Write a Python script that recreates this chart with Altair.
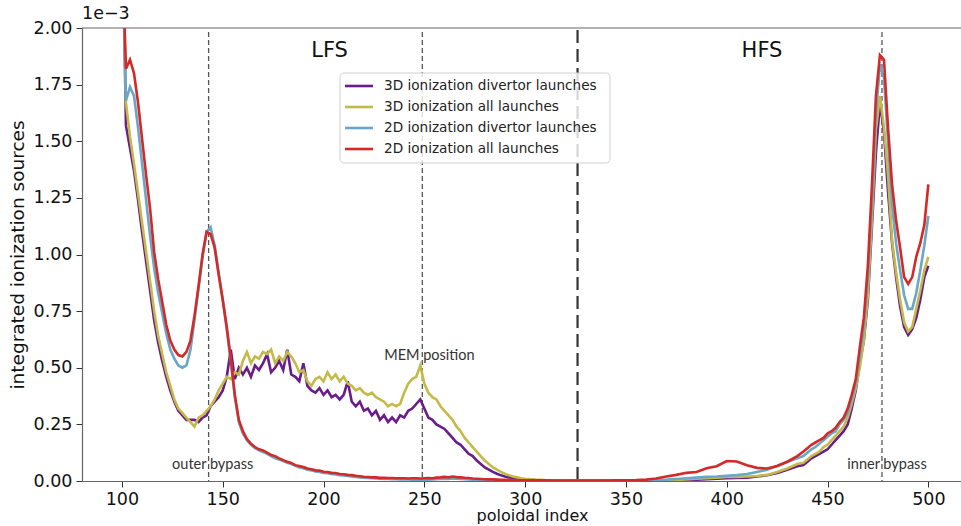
import altair as alt
import pandas as pd

# poloidal index grid (shared by all series)
idx = [101,
       102, 104, 106, 108, 110, 112, 114, 116, 118, 120, 122, 124, 126, 128, 130, 132, 134, 136, 138, 140,
       142, 144, 146, 148, 150, 152, 154, 156, 158, 160, 162, 164, 166, 168, 170, 172, 174, 176, 178, 180,
       182, 184, 186, 188, 190, 192, 194, 196, 198, 200, 202, 204, 206, 208, 210, 212, 214, 216, 218, 220,
       222, 224, 226, 228, 230, 232, 234, 236, 238, 240, 242, 244, 246, 248, 250, 252, 254, 256, 258, 260,
       262, 264, 266, 268, 270, 272, 274, 276, 278, 280, 282, 284, 286, 288, 290, 292, 294, 296, 298, 300,
       305, 310, 315, 320, 325, 330, 335, 340, 345, 350, 355, 360, 365, 370, 375, 380, 385, 390, 395, 400,
       405, 410, 415, 420, 425, 430, 435,
       438, 440, 442, 444, 446, 448, 450, 452, 454, 456, 458, 460, 462, 464, 466, 468, 470, 472, 474, 476,
       478, 480, 482, 484, 486, 488, 490, 492, 494, 496, 498, 500]

# values in units of 1e-3
ion3d_div = [2.10,
    1.57, 1.47, 1.37, 1.24, 1.10, 0.97, 0.84, 0.71, 0.61, 0.53, 0.46, 0.40, 0.35, 0.31, 0.29, 0.27, 0.27, 0.27, 0.26, 0.28,
    0.29, 0.33, 0.35, 0.37, 0.40, 0.46, 0.58, 0.45, 0.50, 0.47, 0.50, 0.46, 0.51, 0.49, 0.52, 0.56, 0.48, 0.50, 0.53, 0.49,
    0.58, 0.47, 0.46, 0.44, 0.52, 0.42, 0.40, 0.39, 0.41, 0.38, 0.40, 0.37, 0.38, 0.36, 0.38, 0.44, 0.35, 0.33, 0.35, 0.31,
    0.32, 0.29, 0.31, 0.27, 0.29, 0.26, 0.28, 0.26, 0.29, 0.28, 0.31, 0.32, 0.34, 0.36, 0.32, 0.28, 0.27, 0.25, 0.24, 0.23,
    0.21, 0.19, 0.17, 0.16, 0.14, 0.12, 0.11, 0.09, 0.075, 0.06, 0.05, 0.04, 0.032, 0.025, 0.02, 0.016, 0.013, 0.01, 0.008, 0.007,
    0.004, 0.003, 0.002, 0.001, 0.001, 0.001, 0.001, 0.001, 0.001, 0.001, 0.001, 0.001, 0.001, 0.002, 0.003, 0.004, 0.006, 0.008, 0.010, 0.012,
    0.013, 0.015, 0.020, 0.025, 0.035, 0.050, 0.065,
    0.07, 0.085, 0.10, 0.11, 0.12, 0.13, 0.14, 0.16, 0.18, 0.20, 0.22, 0.25, 0.32, 0.40, 0.52, 0.62, 0.80, 1.12, 1.45, 1.67,
    1.54, 1.28, 1.05, 0.90, 0.77, 0.68, 0.645, 0.67, 0.72, 0.80, 0.90, 0.95]

ion3d_all = [2.10,
    1.67, 1.52, 1.40, 1.27, 1.14, 1.01, 0.88, 0.75, 0.64, 0.56, 0.48, 0.42, 0.36, 0.32, 0.30, 0.28, 0.26, 0.24, 0.28, 0.29,
    0.31, 0.33, 0.36, 0.40, 0.43, 0.46, 0.45, 0.48, 0.47, 0.53, 0.57, 0.52, 0.55, 0.54, 0.57, 0.56, 0.58, 0.52, 0.55, 0.53,
    0.57, 0.55, 0.52, 0.48, 0.49, 0.44, 0.42, 0.45, 0.46, 0.44, 0.48, 0.45, 0.47, 0.44, 0.46, 0.43, 0.42, 0.40, 0.41, 0.39,
    0.38, 0.39, 0.37, 0.36, 0.35, 0.33, 0.34, 0.33, 0.34, 0.39, 0.43, 0.45, 0.46, 0.51, 0.43, 0.39, 0.37, 0.36, 0.33, 0.31,
    0.29, 0.27, 0.24, 0.22, 0.19, 0.17, 0.15, 0.13, 0.11, 0.09, 0.075, 0.06, 0.05, 0.04, 0.032, 0.025, 0.02, 0.016, 0.012, 0.010,
    0.006, 0.004, 0.003, 0.002, 0.001, 0.001, 0.001, 0.001, 0.001, 0.001, 0.001, 0.001, 0.002, 0.003, 0.005, 0.007, 0.010, 0.012, 0.015, 0.018,
    0.018, 0.020, 0.022, 0.027, 0.040, 0.055, 0.075,
    0.08, 0.095, 0.11, 0.12, 0.13, 0.15, 0.16, 0.18, 0.20, 0.22, 0.24, 0.28, 0.34, 0.41, 0.50, 0.62, 0.82, 1.15, 1.55, 1.70,
    1.56, 1.35, 1.06, 0.92, 0.80, 0.70, 0.66, 0.68, 0.76, 0.84, 0.93, 0.99]

ion2d_div = [2.10,
    1.68, 1.74, 1.70, 1.56, 1.40, 1.24, 1.08, 0.94, 0.83, 0.74, 0.65, 0.58, 0.54, 0.51, 0.50, 0.51, 0.58, 0.71, 0.85, 0.99,
    1.10, 1.12, 1.04, 0.92, 0.80, 0.67, 0.53, 0.37, 0.26, 0.21, 0.18, 0.16, 0.145, 0.135, 0.128, 0.12, 0.11, 0.10, 0.095, 0.088,
    0.08, 0.075, 0.067, 0.06, 0.056, 0.05, 0.047, 0.042, 0.04, 0.036, 0.034, 0.031, 0.029, 0.026, 0.024, 0.022, 0.02, 0.018, 0.016, 0.015,
    0.013, 0.012, 0.011, 0.010, 0.009, 0.009, 0.008, 0.008, 0.007, 0.007, 0.007, 0.006, 0.006, 0.006, 0.006, 0.006, 0.007, 0.008, 0.009, 0.010,
    0.009, 0.011, 0.010, 0.009, 0.008, 0.007, 0.006, 0.006, 0.005, 0.005, 0.004, 0.004, 0.004, 0.003, 0.003, 0.003, 0.003, 0.002, 0.002, 0.002,
    0.002, 0.002, 0.002, 0.002, 0.002, 0.002, 0.002, 0.002, 0.002, 0.002, 0.002, 0.003, 0.004, 0.006, 0.009, 0.012, 0.015, 0.018, 0.020, 0.023,
    0.026, 0.031, 0.040, 0.050, 0.066, 0.084, 0.100,
    0.11, 0.125, 0.14, 0.15, 0.165, 0.18, 0.195, 0.21, 0.22, 0.25, 0.27, 0.30, 0.36, 0.43, 0.55, 0.68, 0.90, 1.22, 1.62, 1.84,
    1.78, 1.50, 1.22, 1.05, 0.93, 0.82, 0.76, 0.76, 0.83, 0.93, 1.04, 1.17]

ion2d_all = [2.10,
    1.82, 1.86, 1.80, 1.67, 1.51, 1.35, 1.20, 1.01, 0.89, 0.79, 0.69, 0.62, 0.58, 0.556, 0.55, 0.57, 0.62, 0.73, 0.86, 1.00,
    1.10, 1.09, 1.03, 0.91, 0.80, 0.68, 0.54, 0.38, 0.27, 0.22, 0.185, 0.165, 0.15, 0.14, 0.135, 0.125, 0.115, 0.11, 0.10, 0.092,
    0.085, 0.08, 0.07, 0.066, 0.062, 0.055, 0.052, 0.047, 0.046, 0.041, 0.04, 0.036, 0.035, 0.031, 0.03, 0.027, 0.026, 0.023, 0.021, 0.019,
    0.018, 0.016, 0.016, 0.014, 0.014, 0.013, 0.013, 0.012, 0.012, 0.012, 0.011, 0.012, 0.012, 0.011, 0.012, 0.013, 0.012, 0.015, 0.016, 0.018,
    0.016, 0.020, 0.017, 0.016, 0.014, 0.013, 0.011, 0.010, 0.009, 0.008, 0.007, 0.007, 0.006, 0.005, 0.005, 0.004, 0.004, 0.004, 0.003, 0.003,
    0.003, 0.003, 0.002, 0.002, 0.002, 0.002, 0.002, 0.002, 0.003, 0.003, 0.004, 0.006, 0.011, 0.020, 0.027, 0.036, 0.040, 0.056, 0.065, 0.088,
    0.086, 0.070, 0.058, 0.055, 0.066, 0.085, 0.110,
    0.13, 0.145, 0.16, 0.17, 0.18, 0.19, 0.21, 0.22, 0.235, 0.26, 0.28, 0.32, 0.38, 0.45, 0.59, 0.72, 0.95, 1.30, 1.70, 1.88,
    1.86, 1.56, 1.31, 1.15, 1.03, 0.90, 0.87, 0.90, 0.99, 1.05, 1.13, 1.31]

series_names = ["3D ionization divertor launches", "3D ionization all launches",
                "2D ionization divertor launches", "2D ionization all launches"]
series_colors = ["#6a1b8c", "#c4ba48", "#6aa6c8", "#d42a27"]

x_ticks = [100, 150, 200, 250, 300, 350, 400, 450, 500]
y_ticks = [0.0, 0.25, 0.5, 0.75, 1.0, 1.25, 1.5, 1.75, 2.0]

thin_lines = [143, 249, 477]
center_line = [326]

region_labels = ["LFS", "HFS"]
region_x = [203, 417.5]
region_y = [1.90, 1.90]

note_labels = ["MEM position", "outer bypass", "inner bypass"]
note_x = [252.5, 145, 479.5]
note_y = [0.55, 0.07, 0.07]

rows = []
for k, (name, vals) in enumerate(zip(series_names, [ion3d_div, ion3d_all, ion2d_div, ion2d_all])):
    for i, v in zip(idx, vals):
        rows.append({"idx": i, "val": v, "series": name, "k": k})
df = pd.DataFrame(rows)

W, H = 879, 453
xs = alt.Scale(domain=[80.2, 516.2], nice=False, zero=False)
ys = alt.Scale(domain=[0, 2], nice=False, zero=False)

lines = alt.Chart(df).mark_line(strokeWidth=2.6, clip=True).encode(
    x=alt.X("idx:Q", scale=xs,
            axis=alt.Axis(values=x_ticks, format="d", title="poloidal index", titleX=450,
                          titlePadding=0, titleFontSize=16, labelPadding=3)),
    y=alt.Y("val:Q", scale=ys,
            axis=alt.Axis(values=y_ticks, format=".2f", title="integrated ionization sources",
                          titlePadding=6)),
    color=alt.Color("series:N", scale=alt.Scale(domain=series_names, range=series_colors), legend=None),
    detail="k:N",
)

top_border = alt.Chart(pd.DataFrame({"v": [2.0]})).mark_rule(color="#666", strokeWidth=1.2).encode(
    y=alt.Y("v:Q", scale=ys))

thin = alt.Chart(pd.DataFrame({"idx": thin_lines})).mark_rule(
    color="#555", strokeWidth=1.3, strokeDash=[5, 3]).encode(
    x=alt.X("idx:Q", scale=xs), y=alt.value(4), y2=alt.value(H))

center = alt.Chart(pd.DataFrame({"idx": center_line})).mark_rule(
    color="#333", strokeWidth=2.2, strokeDash=[13, 6]).encode(
    x=alt.X("idx:Q", scale=xs), y=alt.value(2), y2=alt.value(H))

regions = alt.Chart(pd.DataFrame({"idx": region_x, "val": region_y, "t": region_labels})).mark_text(
    font="DejaVu Sans", fontSize=21, color="#111", align="center", baseline="middle").encode(
    x=alt.X("idx:Q", scale=xs), y=alt.Y("val:Q", scale=ys), text="t:N")

notes = alt.Chart(pd.DataFrame({"idx": note_x, "val": note_y, "t": note_labels})).mark_text(
    font="Lato", fontSize=14.5, color="#333", align="center", baseline="middle").encode(
    x=alt.X("idx:Q", scale=xs), y=alt.Y("val:Q", scale=ys), text="t:N")

exponent = alt.Chart(pd.DataFrame({"t": ["1e\u22123"]})).mark_text(
    font="DejaVu Sans", fontSize=17.5, color="#111", align="left", baseline="middle").encode(
    x=alt.value(0), y=alt.value(-14), text="t:N")

# legend
leg_box = alt.Chart(pd.DataFrame({"a": [0]})).mark_rect(
    fill="white", fillOpacity=0.8, stroke="#d0d0d0", strokeWidth=1, cornerRadius=4).encode(
    x=alt.value(258), x2=alt.value(528), y=alt.value(45), y2=alt.value(135))
leg_layers = [leg_box]
for k, (name, col) in enumerate(zip(series_names, series_colors)):
    yk = 58 + 21 * k
    leg_layers.append(
        alt.Chart(pd.DataFrame({"t": [name]})).mark_rule(color=col, strokeWidth=2.6).encode(
            x=alt.value(263), x2=alt.value(291), y=alt.value(yk)))
    leg_layers.append(
        alt.Chart(pd.DataFrame({"t": [name]})).mark_text(
            font="DejaVu Sans", fontSize=13.6, color="#222", align="left", baseline="middle").encode(
            x=alt.value(302), y=alt.value(yk), text="t:N"))

chart = alt.layer(thin, center, lines, top_border, regions, notes, exponent, *leg_layers).properties(
    width=W, height=H,
    autosize=alt.AutoSizeParams(type="none"),
    padding={"left": 82, "top": 28, "right": 0, "bottom": 45},
).configure_view(stroke=None).configure_axis(
    grid=False, labelFont="DejaVu Sans", titleFont="DejaVu Sans", labelFontSize=17.5,
    titleFontSize=18.5, labelColor="#111", titleColor="#111", titleFontWeight="normal",
    domainColor="#666", domainWidth=1.2, tickColor="#333", tickSize=6, labelPadding=4,
)

chart.save("out.html", embed_options={"renderer": "svg", "actions": False})
